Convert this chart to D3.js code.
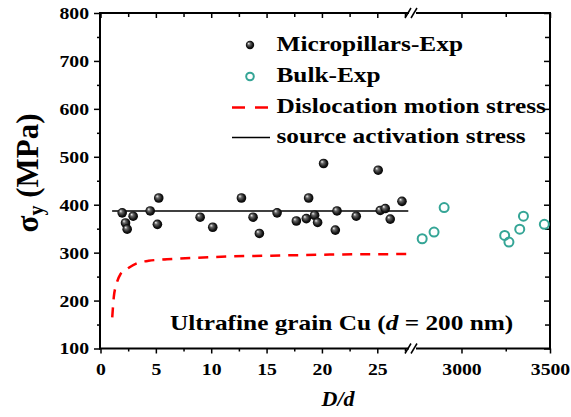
<!DOCTYPE html>
<html>
<head>
<meta charset="utf-8">
<script src="https://cdn.jsdelivr.net/npm/d3@7"></script>
<style>
  body { margin: 0; background: #fff; }
  svg { display: block; font-family: "Liberation Serif"; font-weight: bold; }
</style>
</head>
<body>
<svg id="chart"></svg>
<script>
// micropillar experiments: [D/d, sigma_y]
var pillarD = [1.96, 2.26, 2.41, 2.95, 4.49, 5.14, 5.26, 9.0, 10.14, 12.73, 13.78, 14.35, 15.95, 17.69,
    18.59, 18.8, 19.34, 19.61, 20.15, 21.36, 21.21, 23.1, 25.08, 25.27, 25.72, 26.17, 27.23];
var pillarS = [383, 362, 349, 376, 387, 359, 414, 374, 353, 414, 374, 340, 383, 366,
    371, 414, 378, 363, 486, 387, 347, 376, 472, 388, 392, 370, 407];

// bulk experiments
var bulkD = [2778, 2845, 2902, 3244, 3268, 3329, 3350, 3468];
var bulkS = [329, 343, 394, 336, 322, 349, 376, 359];

// dislocation motion stress
var dislD = [1.06, 1.2, 1.45, 1.8, 2.4, 3.3, 4.35, 6.0, 8.4, 11.7, 16.2, 20.7, 28];
var dislS = [165, 207, 235, 255, 266, 278, 283, 286, 289, 292, 294, 296, 297];

// source activation stress
var srcD = [1.05, 27.8];
var srcS = [387, 387];

var yTicks = [100, 200, 300, 400, 500, 600, 700, 800];
var yMinor = [150, 250, 350, 450, 550, 650, 750];
var xTicksL = [0, 5, 10, 15, 20, 25];
var xMinorL = [2.5, 7.5, 12.5, 17.5, 22.5, 27.5];
var xTicksR = [3000, 3500];
var xMinorR = [3250];

var legendNames = ['Micropillars-Exp', 'Bulk-Exp', 'Dislocation motion stress', 'source activation stress'];

var width = 571, height = 417;
var mLeft = 100, mRight = 550, mTop = 13, mBottom = 348.5;
var teal = '#35a596';
var serif = '"Liberation Serif"';

var svg = d3.select('#chart').attr('width', width).attr('height', height);

var y = d3.scaleLinear().domain([100, 800]).range([mBottom, mTop]);
var xL = d3.scaleLinear().domain([0, 28]).range([100.5, 410.5]);
var xR = d3.scaleLinear().domain([2760, 3500]).range([419, 550]);

function stretch(sel, k) {
    sel.each(function () {
        var n = this.getComputedTextLength();
        d3.select(this).attr('textLength', n * k).attr('lengthAdjust', 'spacingAndGlyphs');
    });
}

var defs = svg.append('defs');
var grad = defs.append('radialGradient').attr('id', 'ball')
    .attr('cx', '50%').attr('cy', '50%').attr('r', '55%')
    .attr('fx', '32%').attr('fy', '30%');
grad.append('stop').attr('offset', '0%').attr('stop-color', '#f4f4f4');
grad.append('stop').attr('offset', '30%').attr('stop-color', '#666');
grad.append('stop').attr('offset', '70%').attr('stop-color', '#151515');
grad.append('stop').attr('offset', '100%').attr('stop-color', '#000');

// axes
function styleAxis(g) {
    g.attr('font-family', serif).attr('font-size', 17).attr('font-weight', 'bold');
    g.select('.domain').remove();
    g.selectAll('line').attr('stroke', '#000').attr('stroke-width', 1.5);
    g.selectAll('text').attr('fill', '#000');
    stretch(g.selectAll('text'), 1.16);
}

svg.append('g').attr('transform', 'translate(' + mLeft + ',0)')
    .call(d3.axisLeft(y).tickValues(yTicks).tickSize(6).tickPadding(5)).call(styleAxis);
svg.append('g').attr('transform', 'translate(' + mLeft + ',0)')
    .call(d3.axisLeft(y).tickValues(yMinor).tickSize(3).tickFormat('')).call(styleAxis);
svg.append('g').attr('transform', 'translate(' + mRight + ',0)')
    .call(d3.axisLeft(y).tickValues(yTicks).tickSize(6).tickFormat('')).call(styleAxis);
svg.append('g').attr('transform', 'translate(' + mRight + ',0)')
    .call(d3.axisLeft(y).tickValues(yMinor).tickSize(5).tickFormat('')).call(styleAxis);

[[xL, xTicksL, xMinorL], [xR, xTicksR, xMinorR]].forEach(function (s) {
    svg.append('g').attr('transform', 'translate(0,' + mBottom + ')')
        .call(d3.axisBottom(s[0]).tickValues(s[1]).tickSize(5).tickPadding(9).tickFormat(d3.format('d')))
        .call(styleAxis);
    svg.append('g').attr('transform', 'translate(0,' + mBottom + ')')
        .call(d3.axisBottom(s[0]).tickValues(s[2]).tickSize(3).tickFormat('')).call(styleAxis);
    svg.append('g').attr('transform', 'translate(0,' + mTop + ')')
        .call(d3.axisBottom(s[0]).tickValues(s[1]).tickSize(5).tickFormat('')).call(styleAxis);
    svg.append('g').attr('transform', 'translate(0,' + mTop + ')')
        .call(d3.axisBottom(s[0]).tickValues(s[2]).tickSize(4).tickFormat('')).call(styleAxis);
});

// frame with the axis break
var frame = svg.append('g').attr('stroke', '#000').attr('stroke-width', 2).attr('fill', 'none');
frame.append('line').attr('x1', mLeft).attr('x2', mLeft).attr('y1', mTop).attr('y2', mBottom + 1);
frame.append('line').attr('x1', mRight).attr('x2', mRight).attr('y1', mTop).attr('y2', mBottom + 1);
[mTop, mBottom].forEach(function (yy) {
    frame.append('line').attr('x1', mLeft - 1).attr('x2', 409).attr('y1', yy).attr('y2', yy);
    frame.append('line').attr('x1', 416).attr('x2', mRight + 1).attr('y1', yy).attr('y2', yy);
    frame.append('line').attr('x1', 405).attr('x2', 411).attr('y1', yy + 5).attr('y2', yy - 5).attr('stroke-width', 1.5);
    frame.append('line').attr('x1', 411).attr('x2', 417).attr('y1', yy + 5).attr('y2', yy - 5).attr('stroke-width', 1.5);
});

// curves
var line = d3.line()
    .x(function (d) { return xL(d[0]); })
    .y(function (d) { return y(d[1]); });

svg.append('path')
    .attr('d', line.curve(d3.curveMonotoneX)(dislD.map(function (d, i) { return [d, dislS[i]]; })))
    .attr('fill', 'none').attr('stroke', '#ff0000').attr('stroke-width', 2.5)
    .attr('stroke-dasharray', '10,8');

svg.append('path')
    .attr('d', line.curve(d3.curveLinear)(srcD.map(function (d, i) { return [d, srcS[i]]; })))
    .attr('fill', 'none').attr('stroke', '#000').attr('stroke-width', 1.6);

// points
svg.append('g').selectAll('circle')
    .data(pillarD.map(function (d, i) { return [d, pillarS[i]]; }))
    .enter()
    .append('circle')
    .attr('cx', function (d) { return xL(d[0]); })
    .attr('cy', function (d) { return y(d[1]); })
    .attr('r', 4.8)
    .attr('fill', 'url(#ball)');

svg.append('g').selectAll('circle')
    .data(bulkD.map(function (d, i) { return [d, bulkS[i]]; }))
    .enter()
    .append('circle')
    .attr('cx', function (d) { return xR(d[0]); })
    .attr('cy', function (d) { return y(d[1]); })
    .attr('r', 4.5)
    .attr('fill', 'none')
    .attr('stroke', teal)
    .attr('stroke-width', 2);

// legend
var lg = svg.append('g');
var rowY = [45, 76.5, 107.5, 137.5];
lg.append('circle').attr('cx', 250).attr('cy', rowY[0]).attr('r', 4.2).attr('fill', 'url(#ball)');
lg.append('circle').attr('cx', 250).attr('cy', rowY[1]).attr('r', 3.8)
    .attr('fill', 'none').attr('stroke', teal).attr('stroke-width', 2);
lg.append('line').attr('x1', 232).attr('x2', 270).attr('y1', rowY[2]).attr('y2', rowY[2])
    .attr('stroke', '#ff0000').attr('stroke-width', 2.5).attr('stroke-dasharray', '13,10');
lg.append('line').attr('x1', 232).attr('x2', 270).attr('y1', rowY[3]).attr('y2', rowY[3])
    .attr('stroke', '#000').attr('stroke-width', 1.6);
lg.selectAll('text')
    .data(legendNames)
    .enter()
    .append('text')
    .attr('x', 276.5)
    .attr('y', function (d, i) { return rowY[i] + 5.5; })
    .attr('font-size', 22)
    .text(function (d) { return d; })
    .call(stretch, 1.15);

// annotation
var note = svg.append('text').attr('x', 170).attr('y', 330).attr('font-size', 22);
note.append('tspan').text('Ultrafine grain Cu (');
note.append('tspan').attr('font-style', 'italic').text('d');
note.append('tspan').text(' = 200 nm)');
note.call(stretch, 1.15);

// axis titles
svg.append('text')
    .attr('x', 338).attr('y', 406)
    .attr('text-anchor', 'middle')
    .attr('font-size', 22)
    .attr('font-style', 'italic')
    .text('D/d');

var yl = svg.append('text')
    .attr('transform', 'translate(38,173) rotate(-90)')
    .attr('text-anchor', 'middle')
    .attr('font-size', 31);
yl.append('tspan').text('σ');
yl.append('tspan').attr('font-size', 20).attr('dy', 5).text('y');
yl.append('tspan').attr('dy', -5).text(' (MPa)');
</script>
</body>
</html>
